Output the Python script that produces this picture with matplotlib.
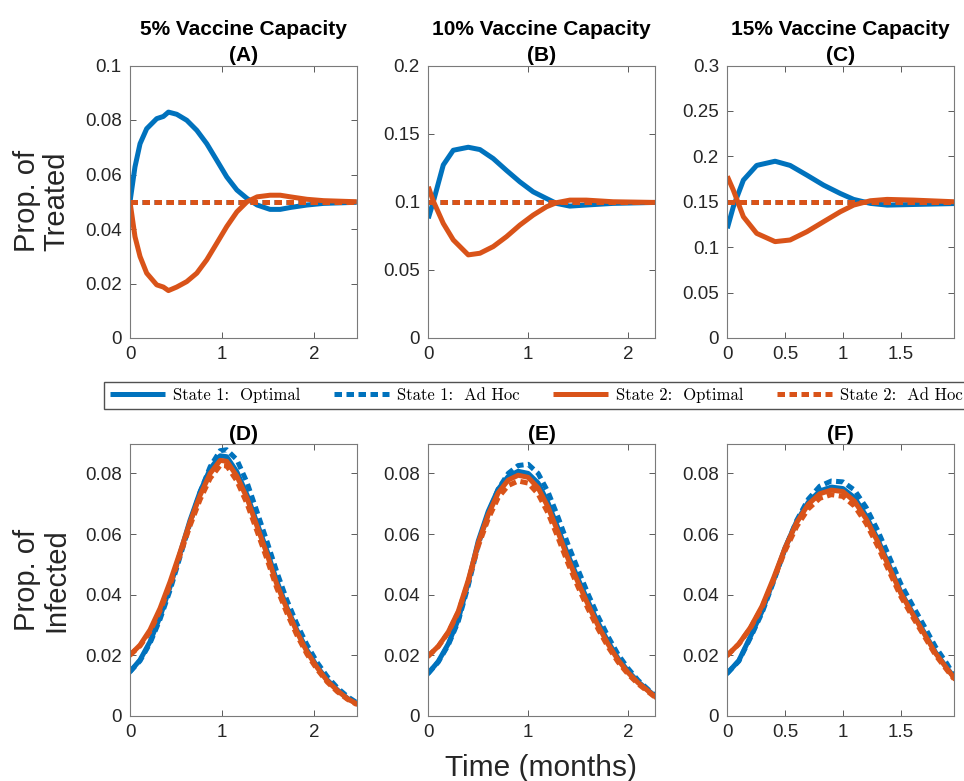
import matplotlib
matplotlib.use("Agg")
import matplotlib.pyplot as plt
from matplotlib.ticker import FixedLocator, FuncFormatter

plt.rcParams['font.family'] = ['Liberation Sans', 'DejaVu Sans']

BLUE = '#0072BD'
ORANGE = '#D95319'

# ---------------- data ----------------
caps = [0.05, 0.10, 0.15]
titles = ["5% Vaccine Capacity\n(A)", "10% Vaccine Capacity\n(B)", "15% Vaccine Capacity\n(C)"]
bottom_titles = ["(D)", "(E)", "(F)"]
t_end = [2.46, 2.27, 1.96]

# Top row: proportion treated
tA = [0, 0.054, 0.109, 0.181, 0.29, 0.362, 0.417, 0.507, 0.616, 0.725, 0.833, 0.942,
      1.05, 1.16, 1.27, 1.38, 1.52, 1.63, 1.74, 1.92, 2.10, 2.46]
treat_s1_opt_A = [0.05, 0.0628, 0.0713, 0.0768, 0.0805, 0.0813, 0.0829, 0.0821, 0.0799, 0.0762,
                  0.0713, 0.0652, 0.0591, 0.0543, 0.0512, 0.0488, 0.0472, 0.0472, 0.0479, 0.0488,
                  0.0494, 0.0498]
treat_s2_opt_A = [0.05, 0.0372, 0.0299, 0.0238, 0.0195, 0.0187, 0.0174, 0.0187, 0.0207, 0.0238,
                  0.0287, 0.0348, 0.0409, 0.0463, 0.05, 0.0518, 0.0524, 0.0524, 0.0518, 0.0509,
                  0.0504, 0.05]

tB = [0, 0.05, 0.15, 0.25, 0.4, 0.517, 0.65, 0.783, 0.917, 1.05, 1.183, 1.283, 1.417, 1.583,
      1.85, 2.27]
treat_s1_opt_B = [0.0878, 0.1000, 0.127, 0.1378, 0.140, 0.1383, 0.1317, 0.123, 0.1146, 0.1073,
                  0.1024, 0.0988, 0.0968, 0.0976, 0.0988, 0.0995]
treat_s2_opt_B = [0.111, 0.1005, 0.0841, 0.072, 0.061, 0.0622, 0.0671, 0.0744, 0.0829, 0.0902,
                  0.0963, 0.0993, 0.1012, 0.1012, 0.1, 0.0995]

tC = [0, 0.052, 0.139, 0.254, 0.413, 0.543, 0.688, 0.832, 0.977, 1.092, 1.237, 1.382, 1.613, 1.96]
treat_s1_opt_C = [0.1207, 0.1445, 0.1738, 0.190, 0.1946, 0.190, 0.1793, 0.1683, 0.1591, 0.1526,
                  0.1482, 0.1463, 0.147, 0.148]
treat_s2_opt_C = [0.178, 0.1628, 0.1335, 0.1152, 0.1061, 0.1079, 0.117, 0.128, 0.139, 0.1463,
                  0.1511, 0.1526, 0.1518, 0.15]

# Bottom row: proportion infected
tD = [0, 0.109, 0.217, 0.326, 0.435, 0.543, 0.652, 0.761, 0.870, 0.978, 1.05, 1.16, 1.27, 1.38,
      1.49, 1.59, 1.70, 1.81, 1.92, 2.03, 2.14, 2.25, 2.36, 2.46]
inf_s1_opt_D = [0.0146, 0.0185, 0.0245, 0.0327, 0.0426, 0.0536, 0.0646, 0.0740, 0.0815, 0.0858,
                0.0855, 0.0805, 0.0729, 0.0635, 0.0542, 0.0448, 0.0360, 0.0284, 0.0218, 0.0163,
                0.0119, 0.0086, 0.0058, 0.0042]
inf_s1_adh_D = [0.0146, 0.0182, 0.0240, 0.0319, 0.0415, 0.0525, 0.0637, 0.0738, 0.0822, 0.0875,
                0.0878, 0.0845, 0.0770, 0.0672, 0.0572, 0.0478, 0.0384, 0.0304, 0.0235, 0.0177,
                0.0130, 0.0093, 0.0064, 0.0044]
inf_s2_opt_D = [0.0201, 0.0234, 0.0284, 0.0355, 0.0443, 0.0540, 0.0640, 0.0728, 0.0800, 0.0843,
                0.0840, 0.0791, 0.0718, 0.0624, 0.0531, 0.0437, 0.0355, 0.0278, 0.0212, 0.0160,
                0.0116, 0.0084, 0.0057, 0.0040]
inf_s2_adh_D = [0.0201, 0.0231, 0.0278, 0.0347, 0.0432, 0.0530, 0.0628, 0.0714, 0.0784, 0.0826,
                0.0825, 0.0775, 0.0700, 0.0608, 0.0514, 0.0424, 0.0341, 0.0267, 0.0204, 0.0154,
                0.0112, 0.0080, 0.0055, 0.0038]

tE = [0, 0.1, 0.2, 0.3, 0.4, 0.5, 0.6, 0.7, 0.8, 0.9, 1.0, 1.1, 1.2, 1.3, 1.4, 1.5, 1.6, 1.7,
      1.8, 1.9, 2.0, 2.1, 2.2, 2.27]
inf_s1_opt_E = [0.0141, 0.0180, 0.0238, 0.0318, 0.0440, 0.0577, 0.0675, 0.0748, 0.0790, 0.0807,
                0.0800, 0.0768, 0.0702, 0.0618, 0.0530, 0.0452, 0.0378, 0.0308, 0.0245, 0.0190,
                0.0148, 0.0113, 0.0085, 0.0066]
inf_s1_adh_E = [0.0141, 0.0178, 0.0234, 0.0312, 0.0430, 0.0565, 0.0668, 0.0748, 0.0800, 0.0826,
                0.0830, 0.0800, 0.0738, 0.0655, 0.0565, 0.0482, 0.0402, 0.0328, 0.0262, 0.0203,
                0.0157, 0.0118, 0.0088, 0.0068]
inf_s2_opt_E = [0.0198, 0.0230, 0.0277, 0.0345, 0.0448, 0.0570, 0.0664, 0.0736, 0.0778, 0.0794,
                0.0787, 0.0752, 0.0688, 0.0605, 0.0518, 0.0440, 0.0367, 0.0298, 0.0237, 0.0185,
                0.0143, 0.0110, 0.0083, 0.0064]
inf_s2_adh_E = [0.0198, 0.0229, 0.0275, 0.0342, 0.0442, 0.0560, 0.0650, 0.0720, 0.0760, 0.0775,
                0.0768, 0.0732, 0.0668, 0.0587, 0.0502, 0.0425, 0.0353, 0.0287, 0.0228, 0.0178,
                0.0138, 0.0106, 0.0080, 0.0062]

tF = [0, 0.1, 0.2, 0.3, 0.4, 0.5, 0.6, 0.7, 0.8, 0.9, 1.0, 1.1, 1.2, 1.3, 1.4, 1.5, 1.6, 1.7,
      1.8, 1.9, 1.96]
inf_s1_opt_F = [0.0141, 0.0183, 0.0262, 0.0345, 0.0448, 0.0555, 0.0642, 0.0705, 0.0742, 0.0755,
                0.0750, 0.0720, 0.0660, 0.0583, 0.0496, 0.0409, 0.0342, 0.0277, 0.0210, 0.0158,
                0.0128]
inf_s1_adh_F = [0.0141, 0.0181, 0.0258, 0.0340, 0.0443, 0.0552, 0.0645, 0.0715, 0.0758, 0.0775,
                0.0772, 0.0745, 0.0688, 0.0612, 0.0525, 0.0436, 0.0366, 0.0298, 0.0228, 0.0172,
                0.0133]
inf_s2_opt_F = [0.0200, 0.0238, 0.0292, 0.0362, 0.0455, 0.0555, 0.0638, 0.0698, 0.0733, 0.0745,
                0.0740, 0.0708, 0.0650, 0.0575, 0.0490, 0.0405, 0.0338, 0.0273, 0.0207, 0.0156,
                0.0126]
inf_s2_adh_F = [0.0200, 0.0237, 0.0290, 0.0358, 0.0448, 0.0545, 0.0625, 0.0683, 0.0718, 0.0730,
                0.0724, 0.0692, 0.0635, 0.0560, 0.0476, 0.0394, 0.0328, 0.0265, 0.0201, 0.0151,
                0.0122]

top_t = [tA, tB, tC]
top_s1 = [treat_s1_opt_A, treat_s1_opt_B, treat_s1_opt_C]
top_s2 = [treat_s2_opt_A, treat_s2_opt_B, treat_s2_opt_C]
bot_t = [tD, tE, tF]
bot_s1_opt = [inf_s1_opt_D, inf_s1_opt_E, inf_s1_opt_F]
bot_s1_adh = [inf_s1_adh_D, inf_s1_adh_E, inf_s1_adh_F]
bot_s2_opt = [inf_s2_opt_D, inf_s2_opt_E, inf_s2_opt_F]
bot_s2_adh = [inf_s2_adh_D, inf_s2_adh_E, inf_s2_adh_F]

top_yticks = [[0, 0.02, 0.04, 0.06, 0.08, 0.1],
              [0, 0.05, 0.1, 0.15, 0.2],
              [0, 0.05, 0.1, 0.15, 0.2, 0.25, 0.3]]
top_ylim = [0.1, 0.2, 0.3]
bot_yticks = [0, 0.02, 0.04, 0.06, 0.08]
bot_ylim = 0.0897
xticks = [[0, 1, 2], [0, 1, 2], [0, 0.5, 1, 1.5]]

legend_labels = ["State 1:  Optimal", "State 1:  Ad Hoc", "State 2:  Optimal", "State 2:  Ad Hoc"]

# ---------------- figure ----------------
W, H = 964, 781
fig = plt.figure(figsize=(W / 100, H / 100), dpi=100)

lefts = [130, 428.3, 727.3]
aw = 226.7
top_box = (65.5, 338)
bot_box = (444, 716)

LW = 3.6
DASH = (0, (1.5, 0.9))

def fmt(v, pos):
    s = ('%.3f' % v).rstrip('0').rstrip('.')
    return s

def style(ax, xt, yt):
    ax.xaxis.set_major_locator(FixedLocator(xt))
    ax.yaxis.set_major_locator(FixedLocator(yt))
    ax.xaxis.set_major_formatter(FuncFormatter(fmt))
    ax.yaxis.set_major_formatter(FuncFormatter(fmt))
    ax.tick_params(direction='in', length=4, width=0.6, colors='#404040',
                   labelsize=13.5, labelcolor='#262626', top=True, right=True, pad=6)
    for sp in ax.spines.values():
        sp.set_color('#7a7a7a')
        sp.set_linewidth(0.8)

def add_axes(left, box):
    x0 = left / W
    y0 = 1 - box[1] / H
    return fig.add_axes([x0, y0, aw / W, (box[1] - box[0]) / H])

handles = None
for i in range(3):
    ax = add_axes(lefts[i], top_box)
    t = top_t[i]
    h1, = ax.plot(t, top_s1[i], color=BLUE, lw=LW, solid_capstyle='butt')
    h2, = ax.plot([0, t_end[i]], [caps[i], caps[i]], color=BLUE, lw=LW, ls=DASH, dash_capstyle='butt')
    h3, = ax.plot(t, top_s2[i], color=ORANGE, lw=LW, solid_capstyle='butt')
    h4, = ax.plot([0, t_end[i]], [caps[i], caps[i]], color=ORANGE, lw=LW, ls=DASH, dash_capstyle='butt')
    if handles is None:
        handles = [h1, h2, h3, h4]
    ax.set_xlim(0, t_end[i])
    ax.set_ylim(0, top_ylim[i])
    style(ax, xticks[i], top_yticks[i])
    ax.set_title(titles[i], fontsize=15, fontweight='bold', linespacing=1.5, pad=3, color='black')

    ax = add_axes(lefts[i], bot_box)
    t = bot_t[i]
    ax.plot(t, bot_s1_opt[i], color=BLUE, lw=LW)
    ax.plot(t, bot_s1_adh[i], color=BLUE, lw=LW, ls=DASH, dash_capstyle='butt')
    ax.plot(t, bot_s2_opt[i], color=ORANGE, lw=LW)
    ax.plot(t, bot_s2_adh[i], color=ORANGE, lw=LW, ls=DASH, dash_capstyle='butt')
    ax.set_xlim(0, t_end[i])
    ax.set_ylim(0, bot_ylim)
    style(ax, xticks[i], bot_yticks)
    ax.set_title(bottom_titles[i], fontsize=15, fontweight='bold', pad=3, color='black')

fig.text(42 / W, 1 - 201 / H, "Prop. of\nTreated", rotation=90, ha='center', va='center',
         fontsize=21, linespacing=1.05, color='#262626')
fig.text(42 / W, 1 - 580 / H, "Prop. of\nInfected", rotation=90, ha='center', va='center',
         fontsize=21, linespacing=1.05, color='#262626')
fig.text(541 / W, 1 - 768 / H, "Time (months)", ha='center', va='center', fontsize=21.5,
         color='#262626')

leg = fig.legend(handles, legend_labels, loc='center left', ncol=4,
                 bbox_to_anchor=(104 / W, 1 - 395.5 / H), frameon=True, fancybox=False,
                 prop={'family': 'cmr10', 'size': 12}, handlelength=3.3, handletextpad=0.5,
                 columnspacing=2.0, borderpad=0.35, borderaxespad=0)
leg.get_frame().set_edgecolor('#262626')
leg.get_frame().set_linewidth(1.0)

fig.savefig('out.png', dpi=100)
